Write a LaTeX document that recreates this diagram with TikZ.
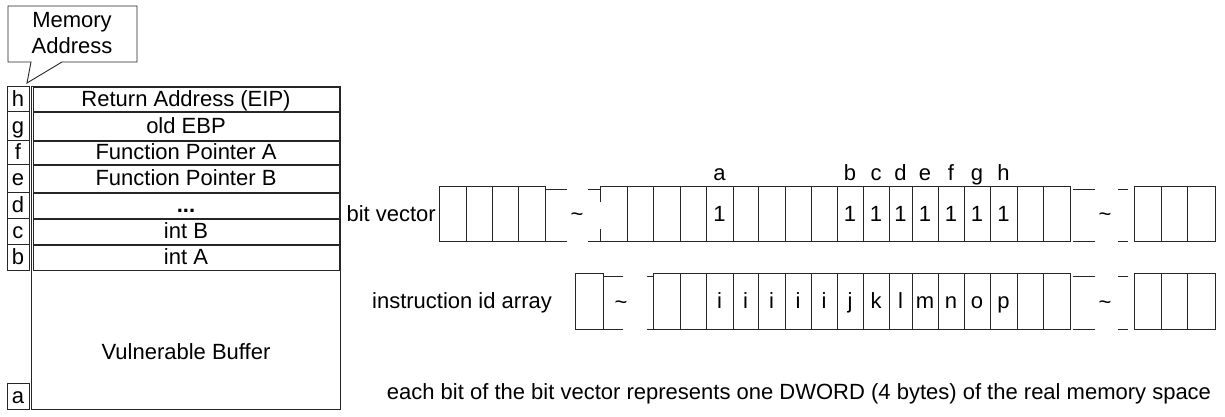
\documentclass[tikz,border=0pt]{standalone}
\usepackage{fontspec}
\setmainfont{Liberation Sans}
\newcommand\mydots{\textbf{...}}
\begin{document}
\begin{tikzpicture}[x=1pt,y=-1pt,
  box/.style={draw=black!85, line width=0.9pt},
  txt/.style={font=\fontsize{22}{26}\selectfont, inner sep=0pt, text height=15.75pt, text depth=0pt},
]
\useasboundingbox (0,0) rectangle (1225,417);

% callout
\draw[box, fill=white] (8,6) -- (137,6) -- (137,62) -- (62,62) -- (27,83) -- (31,62) -- (8,62) -- cycle;
\node[txt] (mem1) at (72,20) {Memory};
\node[txt] (mem2) at (72,46) {Address};

% stack frame
\draw[box] (31,86) rectangle (340,409);
\foreach \t/\b/\l/\m [count=\i] in {86/111/h/Return Address (EIP), 111/140/g/old EBP, 140/164/f/Function Pointer A, 164/192/e/Function Pointer B, 192/218/d/\mydots, 218/244/c/int B, 244/270/b/int A} {
  \draw[box] (7,\t) rectangle (29,\b);
  \node[txt] (L\i) at (18,{(\t+\b)/2}) {\l};
  \draw[box] (33.5,\t+1) rectangle (339,\b);
  \node[txt] (M\i) at (186,{(\t+\b)/2}) {\m};
}
\draw[box] (7,383) rectangle (29,409);
\node[txt] (La) at (18,396) {a};
\node[txt] (vb) at (186,352) {Vulnerable Buffer};

% bit vector
\node[txt, anchor=east] (bvl) at (436,213.5) {bit vector};
\foreach \a/\b [count=\i] in {439/466,466/492,492/518,518/545} {
  \draw[box] (\a,186) rectangle (\b,241);
}
\draw[box] (545,189) -- (567,189) (545,241) -- (567,241);
\node[txt] (bt1) at (577,214) {\textasciitilde};
\draw[box] (588,189) -- (600,189) (588,241) -- (600,241);
\draw[box] (600,202) -- (600,186) -- (627,186);
\draw[box] (600,229) -- (600,241) -- (627,241);
\foreach \a/\b/\v [count=\i] in {627/653/{},653/680/{},680/706/{},706/733/1,733/758/{},758/785/{},785/811/{},811/837/{},837/863/1,863/889/1,889/912/1,912/938/1,938/964/1,964/990/1,990/1017/1,1017/1043/{},1043/1070/{}} {
  \draw[box] (\a,186) rectangle (\b,241);
  \node[txt] (bv\i) at ({(\a+\b)/2},213.5) {\v};
}
\foreach \x/\l in {719.5/a,850/b,876/c,900.5/d,925/e,951/f,977/g,1003.5/h} {
  \node[txt, anchor=base] (lab\l) at (\x,180) {\l};
}
\draw[box] (1073,189) -- (1095,189) (1073,241) -- (1095,241);
\node[txt] (bt2) at (1105,214) {\textasciitilde};
\draw[box] (1118,189) -- (1128,189) (1118,241) -- (1128,241);
\foreach \a/\b [count=\i] in {1134/1161,1161/1187,1187/1215} {
  \draw[box] (\a,186) rectangle (\b,241);
}

% instruction id array
\node[txt] (ial) at (462,301) {instruction id array};
\draw[box] (575,273) rectangle (603,329);
\draw[box] (603,276) -- (623,276) (603,329) -- (623,329);
\node[txt] (it1) at (621,302) {\textasciitilde};
\draw[box] (647,276) -- (653,276) (647,329) -- (653,329);
\foreach \a/\b/\v [count=\i] in {653/680/{},680/706/{},706/733/i,733/758/i,758/785/i,785/811/i,811/837/i,837/863/j,863/889/k,889/912/l,912/938/m,938/964/n,964/990/o,990/1017/p,1017/1043/{},1043/1070/{}} {
  \draw[box] (\a,273) rectangle (\b,329);
  \node[txt] (ia\i) at ({(\a+\b)/2},301) {\v};
}
\draw[box] (1073,276) -- (1095,276) (1073,329) -- (1095,329);
\node[txt] (it2) at (1105,302) {\textasciitilde};
\draw[box] (1118,276) -- (1128,276) (1118,329) -- (1128,329);
\foreach \a/\b [count=\i] in {1134/1161,1161/1187,1187/1215} {
  \draw[box] (\a,273) rectangle (\b,329);
}

\node[txt] (note) at (799,392) {each bit of the bit vector represents one DWORD (4 bytes) of the real memory space};
\end{tikzpicture}
\end{document}
